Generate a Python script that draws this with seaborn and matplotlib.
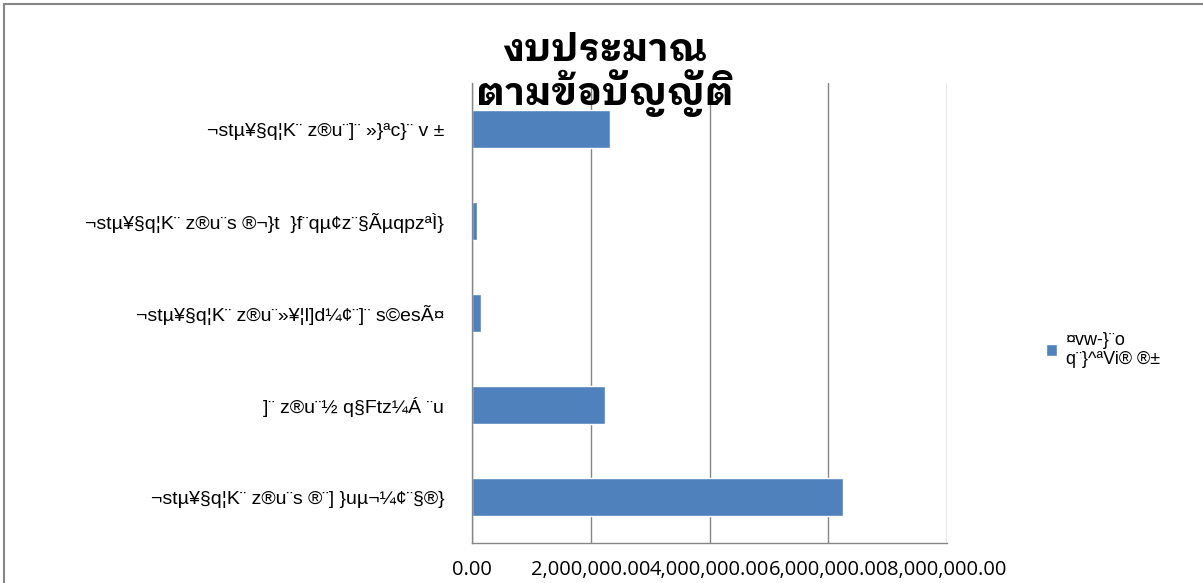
import matplotlib
matplotlib.use("Agg")
import matplotlib.pyplot as plt
import seaborn as sns
import pandas as pd
from matplotlib.lines import Line2D
from matplotlib.ticker import FuncFormatter, FixedLocator

categories = [
    "¬stµ¥§q¦K¨ z®u¨]¨ »}ªc}¨ v ±",
    "¬stµ¥§q¦K¨ z®u¨s ®¬}t  }f¨qµ¢z¨§ÃµqpzªÌ}",
    "¬stµ¥§q¦K¨ z®u¨»¥¦l]d¼¢¨]¨ s©esÃ¤",
    "]¨ z®u¨½ q§Ftz¼Á ¨u",
    "¬stµ¥§q¦K¨ z®u¨s ®¨] }uµ¬¼¢¨§®}",
]
values = [2320000, 85000, 150000, 2240000, 6250000]
series_name = "¤vw-}¨o\nq¨}^ªVi® ®±"
title = "งบประมาณ\nตามข้อบัญญัติ"
xticks = [0, 2000000, 4000000, 6000000, 8000000]

df = pd.DataFrame({"category": categories, "value": values})

sns.set_style("white")
plt.rcParams["font.family"] = ["Liberation Sans", "DejaVu Sans"]
plt.rcParams["text.color"] = "black"

fig = plt.figure(figsize=(12.03, 5.83), dpi=100)
ax = fig.add_axes([472 / 1203, 40 / 583, 475 / 1203, 460 / 583])

sns.barplot(data=df, x="value", y="category", color="#4F81BD", width=0.41,
            saturation=1, label=series_name, ax=ax)
if ax.get_legend() is not None:
    ax.get_legend().remove()

grid_c = "#868686"
ax.set_xlim(0, 8000000)
ax.set_ylim(len(categories) - 0.5, -0.5)
ax.xaxis.set_major_locator(FixedLocator(xticks))
ax.xaxis.set_major_formatter(FuncFormatter(lambda v, p: f"{v:,.2f}"))
ax.grid(axis="x", color=grid_c, linewidth=1)
ax.set_axisbelow(True)
ax.set_xlabel("")
ax.set_ylabel("")
for s in ["top", "right"]:
    ax.spines[s].set_visible(False)
for s in ["left", "bottom"]:
    ax.spines[s].set_color(grid_c)
    ax.spines[s].set_linewidth(1)

ax.tick_params(axis="x", length=6, color=grid_c, pad=6, labelsize=14.5,
               labelcolor="black")
for lab in ax.get_xticklabels():
    lab.set_family(["Open Sans", "DejaVu Sans"])
ax.tick_params(axis="y", which="major", length=0, pad=20, labelsize=14,
               labelcolor="black")
ax.set_yticks([i - 0.5 for i in range(len(categories) + 1)], minor=True)
ax.tick_params(axis="y", which="minor", length=7, color=grid_c)

fig.text(0.503, 0.80, title, ha="center", va="bottom", fontsize=27.5,
         fontweight="bold", linespacing=1.0, color="black",
         family=["IBM Plex Sans Thai Looped", "Loma", "DejaVu Sans"])

fig.legend(loc="center left", bbox_to_anchor=(1030 / 1203, 1 - 350 / 583),
           frameon=False, fontsize=13, handlelength=0.6, handleheight=0.6,
           handletextpad=0.5, labelspacing=0.2)

fig.lines.append(Line2D([4 / 1203, 1], [1 - 4 / 583, 1 - 4 / 583],
                        transform=fig.transFigure, color="#868686", linewidth=1.5))
fig.lines.append(Line2D([4 / 1203, 4 / 1203], [0, 1 - 4 / 583],
                        transform=fig.transFigure, color="#868686", linewidth=1.5))

fig.savefig("out.png", dpi=100)
